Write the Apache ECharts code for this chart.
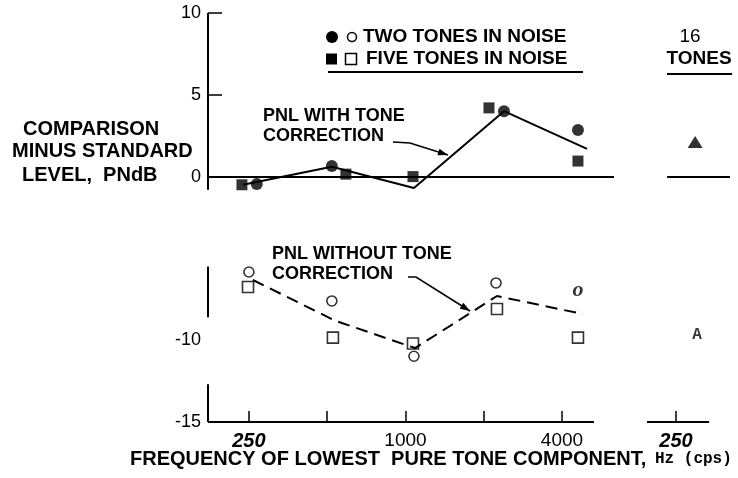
<!DOCTYPE html>
<html>
<head>
<meta charset="utf-8">
<script src="https://cdn.jsdelivr.net/npm/echarts@6/dist/echarts.min.js"></script>
<style>
  html, body { margin: 0; padding: 0; background: #fff; }
  #chart { width: 738px; height: 478px; }
</style>
</head>
<body>
<div id="chart"></div>
<script>
// values: frequency in Hz, level in PNdB
const tickFreqs = [250, 500, 1000, 2000, 4000];
const labelFreqs = [250, 1000, 4000];
const yLabels = [10, 5, 0, -10, -15];
const yTicks = [10, 5];

// with tone correction (upper group)
const twoWithFreq = [268, 521, 2393, 4608];
const twoWithLevel = [-0.45, 0.65, 4.0, 2.85];
const fiveWithFreq = [235, 590, 1069, 2095, 4608];
const fiveWithLevel = [-0.5, 0.15, 0.0, 4.2, 0.95];
const withLineFreq = [237, 521, 1078, 2393, 4993];
const withLineLevel = [-0.5, 0.6, -0.7, 4.0, 1.7];

// without tone correction (lower group)
const twoWithoutFreq = [250, 521, 1078, 2230];
const twoWithoutLevel = [-5.83, -7.6, -10.98, -6.5];
const twoWithoutOddFreq = [4608];   // printed as an italic "o"
const twoWithoutOddLevel = [-6.93];
const fiveWithoutFreq = [248, 526, 1069, 2249, 4608];
const fiveWithoutLevel = [-6.75, -9.84, -10.2, -8.09, -9.84];
const withoutLineFreq = [259, 535, 1089, 2249, 4817];
const withoutLineLevel = [-6.32, -8.8, -10.48, -7.3, -8.4];

// 16 tones panel
const sixteenFreq = [296];
const sixteenWithLevel = [2.11];
const sixteenWithoutFreq = [301];
const sixteenWithoutLevel = [-9.68];

// axis extents (Hz) and broken y axis pieces (PNdB)
const mainRange = [174, 6340];
const mainAxisEnd = 5310;
const sideRange = [193.4, 403];
const sideAxisEnd = 335;
const sideZeroStart = 231;
const yAxisPieces = [[10, -0.8], [-5.5, -8.6], [-12.7, -15]];

const oct = f => Math.log2(f / 250);   // octaves above 250 Hz
const pts = (fs, ls) => fs.map((f, i) => [oct(f), ls[i]]);
const seg = (x1, y1, x2, y2) => [{ coord: [oct(x1), y1] }, { coord: [oct(x2), y2] }];

const chart = echarts.init(document.getElementById('chart'));

const FONT = '"Liberation Sans", Arial, sans-serif';
const black = '#000';

function txt(x, y, text, size, weight, extra) {
    return {
        type: 'text', x: x, y: y, z: 100,
        style: Object.assign({
            text: text, fill: black, fontSize: size, fontWeight: weight || 'bold',
            fontFamily: FONT, textVerticalAlign: 'middle', verticalAlign: 'middle'
        }, extra || {})
    };
}

function leader(points) {
    const n = points.length;
    const [x1, y1] = points[n - 2], [x2, y2] = points[n - 1];
    const len = Math.hypot(x2 - x1, y2 - y1);
    const ux = (x2 - x1) / len, uy = (y2 - y1) / len;
    const bx = x2 - ux * 10, by = y2 - uy * 10, px = -uy * 3.5, py = ux * 3.5;
    return [
        { type: 'polyline', z: 100, shape: { points: points }, style: { stroke: black, lineWidth: 1.6, fill: null } },
        { type: 'polygon', z: 100, shape: { points: [[x2, y2], [bx + px, by + py], [bx - px, by - py]] }, style: { fill: black } }
    ];
}

function freqLabel(v) {
    const f = Math.round(250 * Math.pow(2, v));
    return f === 250 ? '{it|' + f + '}' : '{n|' + f + '}';
}
const labelRich = {
    it: { fontSize: 20, fontWeight: 'bold', fontStyle: 'italic', fontFamily: FONT, color: black },
    n: { fontSize: 19, fontWeight: 'normal', fontFamily: FONT, color: black }
};

const frameLine = { color: black, width: 2, type: 'solid' };

const option = {
    animation: false,
    backgroundColor: '#fff',
    grid: [
        { left: 208, top: 13, right: 124, bottom: 56 },
        { left: 647, top: 13, right: 8, bottom: 56 }
    ],
    xAxis: [
        {
            type: 'value', gridIndex: 0, min: oct(mainRange[0]), max: oct(mainRange[1]),
            splitLine: { show: false }, axisLine: { show: false, onZero: false },
            axisTick: { show: true, inside: true, length: 11, customValues: tickFreqs.map(oct), lineStyle: { color: black, width: 1.5 } },
            axisLabel: { customValues: labelFreqs.map(oct), formatter: freqLabel, rich: labelRich, margin: 9 }
        },
        {
            type: 'value', gridIndex: 1, min: oct(sideRange[0]), max: oct(sideRange[1]),
            splitLine: { show: false }, axisLine: { show: false, onZero: false },
            axisTick: { show: true, inside: true, length: 11, customValues: [0], lineStyle: { color: black, width: 1.5 } },
            axisLabel: { customValues: [0], formatter: freqLabel, rich: labelRich, margin: 9 }
        }
    ],
    yAxis: [
        {
            type: 'value', gridIndex: 0, min: -15, max: 10,
            splitLine: { show: false }, axisLine: { show: false, onZero: false },
            axisTick: { show: true, inside: true, length: 14, customValues: yTicks, lineStyle: { color: black, width: 1.5 } },
            axisLabel: { customValues: yLabels, fontSize: 18, fontFamily: FONT, color: black, margin: 7 }
        },
        { type: 'value', gridIndex: 1, min: -15, max: 10, show: false }
    ],
    series: [
        {
            name: 'PNL with tone correction', type: 'line', xAxisIndex: 0, yAxisIndex: 0,
            data: pts(withLineFreq, withLineLevel), symbol: 'none',
            lineStyle: { color: black, width: 2 },
            markLine: {
                silent: true, symbol: 'none', label: { show: false }, lineStyle: frameLine,
                data: yAxisPieces.map(p => seg(mainRange[0], p[0], mainRange[0], p[1])).concat([
                    seg(mainRange[0], -15, mainAxisEnd, -15),
                    seg(mainRange[0], 0, mainRange[1], 0)
                ])
            }
        },
        {
            name: 'PNL without tone correction', type: 'line', xAxisIndex: 0, yAxisIndex: 0,
            data: pts(withoutLineFreq, withoutLineLevel), symbol: 'none',
            lineStyle: { color: black, width: 2, type: [12, 7] }
        },
        {
            name: 'Two tones (with)', type: 'scatter', data: pts(twoWithFreq, twoWithLevel),
            symbol: 'circle', symbolSize: 12, itemStyle: { color: black }
        },
        {
            name: 'Five tones (with)', type: 'scatter', data: pts(fiveWithFreq, fiveWithLevel),
            symbol: 'rect', symbolSize: 11, itemStyle: { color: black }
        },
        {
            name: 'Two tones (without)', type: 'scatter', data: pts(twoWithoutFreq, twoWithoutLevel),
            symbol: 'circle', symbolSize: 10, itemStyle: { color: '#fff', borderColor: black, borderWidth: 1.6 }
        },
        {
            name: 'Five tones (without)', type: 'scatter', data: pts(fiveWithoutFreq, fiveWithoutLevel),
            symbol: 'rect', symbolSize: 11, itemStyle: { color: '#fff', borderColor: black, borderWidth: 1.6 }
        },
        {
            name: 'Two tones (without, o)', type: 'scatter', data: pts(twoWithoutOddFreq, twoWithoutOddLevel),
            symbolSize: 1, itemStyle: { color: 'transparent' },
            label: { show: true, position: 'inside', formatter: 'o', fontStyle: 'italic', fontWeight: 'bold', fontSize: 22, fontFamily: '"Liberation Serif", serif', color: black }
        },
        {
            name: '16 tones (with)', type: 'scatter', xAxisIndex: 1, yAxisIndex: 1,
            data: pts(sixteenFreq, sixteenWithLevel), symbol: 'triangle', symbolSize: [15, 12],
            itemStyle: { color: black },
            markLine: {
                silent: true, symbol: 'none', label: { show: false }, lineStyle: frameLine,
                data: [
                    seg(sideRange[0], -15, sideAxisEnd, -15),
                    seg(sideZeroStart, 0, sideRange[1], 0)
                ]
            }
        },
        {
            name: '16 tones (without)', type: 'scatter', xAxisIndex: 1, yAxisIndex: 1,
            data: pts(sixteenWithoutFreq, sixteenWithoutLevel), symbolSize: 1, itemStyle: { color: 'transparent' },
            label: { show: true, position: 'inside', formatter: 'A', fontWeight: 'bold', fontSize: 16, fontFamily: '"Liberation Mono", monospace', color: black }
        }
    ],
    graphic: [
        // y axis title
        txt(23, 129, 'COMPARISON', 20),
        txt(12, 151, 'MINUS STANDARD', 20),
        txt(22, 175, 'LEVEL,  PNdB', 20),
        // x axis title
        txt(130, 459, 'FREQUENCY OF LOWEST  PURE TONE COMPONENT,', 20),
        txt(655, 459, 'Hz (cps)', 16, 'bold', { fontFamily: '"Liberation Mono", monospace' }),
        // legend
        { type: 'circle', z: 100, shape: { cx: 332, cy: 37, r: 6 }, style: { fill: black } },
        { type: 'circle', z: 100, shape: { cx: 352, cy: 37, r: 4.5 }, style: { fill: '#fff', stroke: black, lineWidth: 1.5 } },
        { type: 'rect', z: 100, shape: { x: 326, y: 53.5, width: 11, height: 11 }, style: { fill: black } },
        { type: 'rect', z: 100, shape: { x: 345.5, y: 53.5, width: 11, height: 11 }, style: { fill: '#fff', stroke: black, lineWidth: 1.5 } },
        txt(363, 37, 'TWO TONES IN NOISE', 19),
        txt(366, 59, 'FIVE TONES IN NOISE', 19),
        { type: 'line', z: 100, shape: { x1: 328, y1: 72, x2: 583, y2: 72 }, style: { stroke: black, lineWidth: 2 } },
        // 16 tones header
        txt(690, 37, '16', 19, 'normal', { textAlign: 'center', align: 'center' }),
        txt(699, 59, 'TONES', 19, 'bold', { textAlign: 'center', align: 'center' }),
        { type: 'line', z: 100, shape: { x1: 667, y1: 74, x2: 732, y2: 74 }, style: { stroke: black, lineWidth: 2 } },
        // annotations
        txt(263, 116, 'PNL WITH TONE', 18),
        txt(263, 136, 'CORRECTION', 18),
        txt(272, 254, 'PNL WITHOUT TONE', 18),
        txt(272, 274, 'CORRECTION', 18)
    ].concat(leader([[393, 142], [410, 143], [448, 155]]))
     .concat(leader([[408, 277], [416, 277], [470, 311]]))
};

chart.setOption(option);
</script>
</body>
</html>
